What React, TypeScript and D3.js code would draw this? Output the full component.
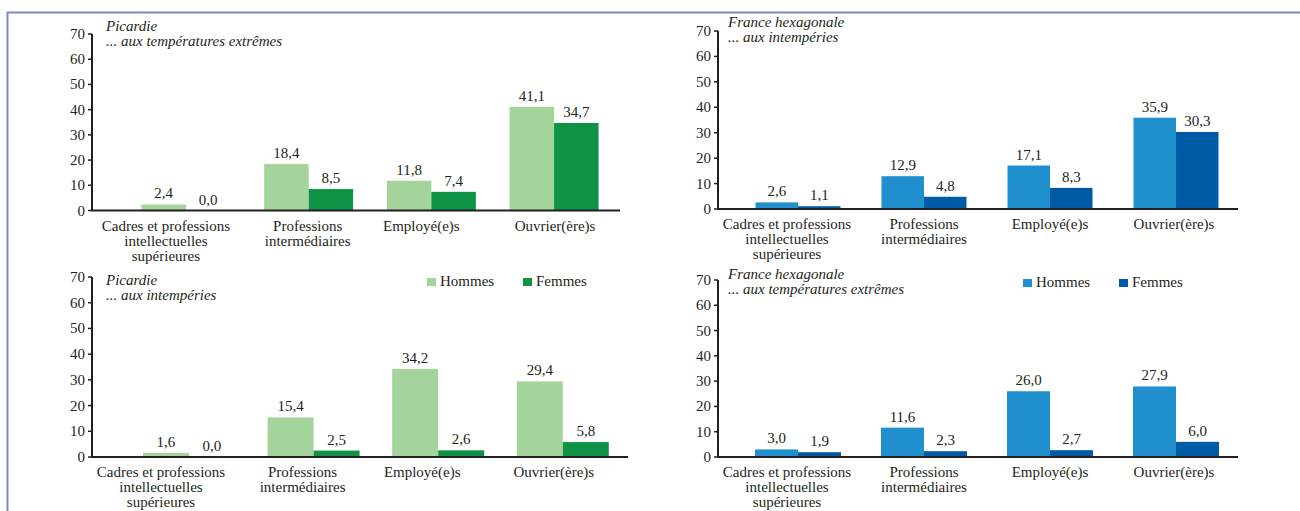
import React from "react";
import * as d3 from "d3";

// Catégories socioprofessionnelles (une ligne de texte par élément)
const categories: string[][] = [
  ["Cadres et professions", "intellectuelles", "supérieures"],
  ["Professions", "intermédiaires"],
  ["Employé(e)s"],
  ["Ouvrier(ère)s"],
];
const categoryKeys = ["cadres", "intermediaires", "employes", "ouvriers"];
const sexes = ["Hommes", "Femmes"];
const yTicks = [0, 10, 20, 30, 40, 50, 60, 70];

// Picardie — exposition aux températures extrêmes (%)
const picardieTempHommes = [2.4, 18.4, 11.8, 41.1];
const picardieTempFemmes = [0.0, 8.5, 7.4, 34.7];
// France hexagonale — exposition aux intempéries (%)
const franceIntempHommes = [2.6, 12.9, 17.1, 35.9];
const franceIntempFemmes = [1.1, 4.8, 8.3, 30.3];
// Picardie — exposition aux intempéries (%)
const picardieIntempHommes = [1.6, 15.4, 34.2, 29.4];
const picardieIntempFemmes = [0.0, 2.5, 2.6, 5.8];
// France hexagonale — exposition aux températures extrêmes (%)
const franceTempHommes = [3.0, 11.6, 26.0, 27.9];
const franceTempFemmes = [1.9, 2.3, 2.7, 6.0];

const GREEN = ["#a4d49c", "#0e9346"];
const BLUE = ["#1f8fce", "#005ba6"];
const INK = "#231f20";
const FONT = '"Liberation Serif", "Times New Roman", Times, serif';

type Panel = {
  region: string;
  subtitle: string;
  hommes: number[];
  femmes: number[];
  colors: string[];
  axisX: number;
  yTop: number;
  yBottom: number;
  axisEnd: number;
  band: [number, number];
  barW: number;
  labelNudge: number[];
  titleX: number;
  titleY: number;
  legendX?: number;
  legendY?: number;
};

const panels: Panel[] = [
  {
    region: "Picardie",
    subtitle: "... aux températures extrêmes",
    hommes: picardieTempHommes,
    femmes: picardieTempFemmes,
    colors: GREEN,
    axisX: 92,
    yTop: 34,
    yBottom: 210.5,
    axisEnd: 620,
    band: [124.6, 615.4],
    barW: 44.5,
    labelNudge: [-20, -1, -10, 1],
    titleX: 106,
    titleY: 31,
  },
  {
    region: "France hexagonale",
    subtitle: "... aux intempéries",
    hommes: franceIntempHommes,
    femmes: franceIntempFemmes,
    colors: BLUE,
    axisX: 718,
    yTop: 31,
    yBottom: 209,
    axisEnd: 1238,
    band: [735, 1239],
    barW: 42.5,
    labelNudge: [-11, 0, 0, -2],
    titleX: 728,
    titleY: 27,
  },
  {
    region: "Picardie",
    subtitle: "... aux intempéries",
    hommes: picardieIntempHommes,
    femmes: picardieIntempFemmes,
    colors: GREEN,
    axisX: 92,
    yTop: 277,
    yBottom: 457,
    axisEnd: 628,
    band: [126.7, 625.1],
    barW: 46,
    labelNudge: [-28, -11, -16, -9],
    titleX: 106,
    titleY: 285,
    legendX: 427,
    legendY: 278,
  },
  {
    region: "France hexagonale",
    subtitle: "... aux températures extrêmes",
    hommes: franceTempHommes,
    femmes: franceTempFemmes,
    colors: BLUE,
    axisX: 718,
    yTop: 280,
    yBottom: 457,
    axisEnd: 1238,
    band: [735, 1239],
    barW: 43,
    labelNudge: [-11, 0, 0, -2],
    titleX: 728,
    titleY: 279,
    legendX: 1023,
    legendY: 279,
  },
];

const fmt = (v: number) => d3.format(".1f")(v).replace(".", ",");

function ChartPanel({ p }: { p: Panel }) {
  const y = d3.scaleLinear().domain([0, 70]).range([p.yBottom, p.yTop]);
  const x0 = d3.scaleBand<string>().domain(categoryKeys).range(p.band).padding(0);
  const step = x0.bandwidth();
  const x1 = d3
    .scaleBand<string>()
    .domain(sexes)
    .range([step / 2 - p.barW, step / 2 + p.barW])
    .padding(0);
  const series = [p.hommes, p.femmes];

  return (
    <g>
      {/* Titre du panneau */}
      <text x={p.titleX} y={p.titleY} fontStyle="italic" fontSize={15} fill={INK}>
        {p.region}
      </text>
      <text x={p.titleX} y={p.titleY + 14.5} fontStyle="italic" fontSize={15} fill={INK}>
        {p.subtitle}
      </text>

      {/* Barres et étiquettes de valeur */}
      {categoryKeys.map((c, i) => (
        <g key={c} transform={`translate(${x0(c)},0)`}>
          {sexes.map((s, j) => {
            const v = series[j][i];
            const bx = x1(s)!;
            return (
              <g key={s}>
                <rect
                  x={bx}
                  y={y(v)}
                  width={x1.bandwidth()}
                  height={p.yBottom - y(v)}
                  fill={p.colors[j]}
                />
                <text
                  x={bx + x1.bandwidth() / 2}
                  y={y(v) - 6}
                  textAnchor="middle"
                  fontSize={15}
                  fill={INK}
                >
                  {fmt(v)}
                </text>
              </g>
            );
          })}
        </g>
      ))}

      {/* Axe des ordonnées */}
      <line x1={p.axisX} x2={p.axisX} y1={p.yTop} y2={p.yBottom} stroke={INK} strokeWidth={2} />
      {yTicks.map((t) => (
        <g key={t}>
          <line x1={p.axisX - 4} x2={p.axisX} y1={y(t)} y2={y(t)} stroke={INK} strokeWidth={1.5} />
          <text x={p.axisX - 7} y={y(t) + 5} textAnchor="end" fontSize={15} fill={INK}>
            {t}
          </text>
        </g>
      ))}

      {/* Axe des abscisses */}
      <line x1={p.axisX - 1} x2={p.axisEnd} y1={p.yBottom} y2={p.yBottom} stroke={INK} strokeWidth={2.2} />
      {categoryKeys.map((c, i) => (
        <text
          key={c}
          x={x0(c)! + step / 2 + p.labelNudge[i]}
          y={p.yBottom + 20}
          textAnchor="middle"
          fontSize={15}
          fill={INK}
        >
          {categories[i].map((line, k) => (
            <tspan key={k} x={x0(c)! + step / 2 + p.labelNudge[i]} dy={k === 0 ? 0 : 15}>
              {line}
            </tspan>
          ))}
        </text>
      ))}

      {/* Légende */}
      {p.legendX !== undefined &&
        sexes.map((s, j) => {
          const lx = p.legendX! + j * 96;
          return (
            <g key={s}>
              <rect x={lx} y={p.legendY!} width={9} height={8} fill={p.colors[j]} />
              <text x={lx + 13} y={p.legendY! + 8} fontSize={15} fill={INK}>
                {s}
              </text>
            </g>
          );
        })}
    </g>
  );
}

export default function App() {
  return (
    <svg
      width={1300}
      height={511}
      style={{ position: "absolute", left: 0, top: 0, background: "#ffffff", fontFamily: FONT }}
    >
      <rect x={0} y={0} width={1300} height={511} fill="#ffffff" />
      {/* Cadre */}
      <line x1={7} x2={1300} y1={12.5} y2={12.5} stroke="#8087c6" strokeWidth={2} />
      <line x1={7.5} x2={7.5} y1={12} y2={511} stroke="#8087c6" strokeWidth={2} />
      {panels.map((p, i) => (
        <ChartPanel key={i} p={p} />
      ))}
    </svg>
  );
}
